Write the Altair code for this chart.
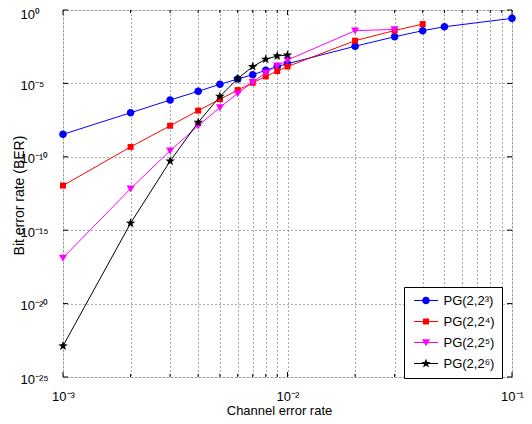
import math
import altair as alt
import pandas as pd

# ---------------- data ----------------
series_names = ["PG(2,2³)", "PG(2,2⁴)", "PG(2,2⁵)", "PG(2,2⁶)"]
colors = ["#0000ff", "#ff0000", "#ff00ff", "#000000"]

x_pg3 = [0.001, 0.002, 0.003, 0.004, 0.005, 0.006, 0.007, 0.008, 0.009, 0.01,
         0.02, 0.03, 0.04, 0.05, 0.1]
ber_pg3 = [3.4e-9, 1.0e-7, 7.4e-7, 2.9e-6, 8.7e-6, 2.0e-5, 3.9e-5, 7.8e-5, 1.4e-4, 2.2e-4,
           3.4e-3, 1.5e-2, 3.9e-2, 7.2e-2, 2.7e-1]

x_pg4 = [0.001, 0.002, 0.003, 0.004, 0.005, 0.006, 0.007, 0.008, 0.009, 0.01,
         0.02, 0.03, 0.04]
ber_pg4 = [1.1e-12, 4.7e-10, 1.3e-8, 1.4e-7, 8.3e-7, 3.5e-6, 1.1e-5, 3.0e-5, 6.9e-5, 1.4e-4,
           8.1e-3, 4.0e-2, 1.1e-1]

x_pg5 = [0.001, 0.002, 0.003, 0.004, 0.005, 0.006, 0.007, 0.008, 0.009, 0.01,
         0.02, 0.03]
ber_pg5 = [1.3e-17, 6.8e-13, 2.6e-10, 1.3e-8, 2.3e-7, 2.1e-6, 1.2e-5, 5.4e-5, 1.6e-4, 3.9e-4,
           3.9e-2, 4.8e-2]

x_pg6 = [0.001, 0.002, 0.003, 0.004, 0.005, 0.006, 0.007, 0.008, 0.009, 0.01]
ber_pg6 = [1.3e-23, 3.0e-15, 5.1e-11, 2.2e-8, 1.3e-6, 2.1e-5, 1.4e-4, 4.4e-4, 7.4e-4, 8.5e-4]

x_major = [0.001, 0.01, 0.1]
x_minor = [0.002, 0.003, 0.004, 0.005, 0.006, 0.007, 0.008, 0.009,
           0.02, 0.03, 0.04, 0.05, 0.06, 0.07, 0.08, 0.09]
x_tick_labels = ["10⁻³", "10⁻²", "10⁻¹"]
x_exponents = [-3, -2, -1]
y_major = [1.0, 1e-5, 1e-10, 1e-15, 1e-20, 1e-25]
y_tick_labels = ["10⁰", "10⁻⁵", "10⁻¹⁰", "10⁻¹⁵", "10⁻²⁰", "10⁻²⁵"]
y_exponents = [0, -5, -10, -15, -20, -25]

xs_all = [x_pg3, x_pg4, x_pg5, x_pg6]
ys_all = [ber_pg3, ber_pg4, ber_pg5, ber_pg6]

# ---------------- marker shapes (unit space) ----------------
def star_path(R=1.25, r=0.5):
    pts = []
    for k in range(10):
        ang = -math.pi / 2 + k * math.pi / 5
        rad = R if k % 2 == 0 else r
        pts.append((rad * math.cos(ang), rad * math.sin(ang)))
    return "M" + "L".join(f"{px:.3f},{py:.3f}" for px, py in pts) + "Z"

marker_paths = [
    "M0.95,0A0.95,0.95 0 1,1 -0.95,0A0.95,0.95 0 1,1 0.95,0Z",
    "M-0.75,-0.75H0.75V0.75H-0.75Z",
    "M-1,-0.8L1,-0.8L0,0.95Z",
    star_path(),
]
# legend symbol = short line (thin filled bar) + marker
legend_paths = ["M-3,-0.13H3V0.13H-3Z" + p for p in marker_paths]
S = 64

W, H = 449, 367

def label_expr(exps, labels):
    e = "round(log(datum.value)/LN10)"
    expr = "''"
    for ex, lab in zip(reversed(exps), reversed(labels)):
        expr = f"({e} == {ex} && abs(log(datum.value)/LN10 - {e}) < 0.001) ? '{lab}' : {expr}"
    return expr

FONT = "Liberation Sans"
xscale = alt.Scale(type="log", domain=[0.001, 0.1], nice=False)
yscale = alt.Scale(type="log", domain=[1e-25, 1.0], nice=False)

xaxis = alt.Axis(values=x_major + x_minor, labelExpr=label_expr(x_exponents, x_tick_labels),
                 grid=True, gridDash=[1, 3], gridColor="#555555", gridWidth=1,
                 ticks=False, tickSize=0, domain=False, labelPadding=13,
                 labelFont=FONT, labelFontSize=13, labelColor="black",
                 labelOverlap=False, labelFlush=False, labelBound=False,
                 title="Channel error rate", titleFont=FONT, titleFontSize=13,
                 titleFontWeight="normal", titleColor="black",
                 titleX=216, titleY=37, titleBaseline="alphabetic", titleAlign="center")
yaxis = alt.Axis(values=y_major, labelExpr=label_expr(y_exponents, y_tick_labels),
                 grid=True, gridDash=[1, 3], gridColor="#555555", gridWidth=1,
                 ticks=False, tickSize=0, domain=False, labelPadding=43,
                 labelAlign="left", labelBaseline="middle",
                 labelOffset={"condition": {"test": "datum.value > 0.5", "value": 4}, "value": 2},
                 labelFont=FONT, labelFontSize=13, labelColor="black",
                 labelOverlap=False, labelFlush=False, labelBound=False,
                 title="Bit error rate (BER)", titleFont=FONT, titleFontSize=14,
                 titleFontWeight="normal", titleColor="black",
                 titleX=-44, titleY=185, titleAngle=270, titleBaseline="middle",
                 titleAlign="center")

def X(field="x"):
    return alt.X(f"{field}:Q", scale=xscale, axis=xaxis)

def Y(field="y"):
    return alt.Y(f"{field}:Q", scale=yscale, axis=yaxis)

layers = []

# inward tick marks (box ticks)
df_xmaj = pd.DataFrame({"x": x_major})
df_xmin = pd.DataFrame({"x": x_minor})
df_ymaj = pd.DataFrame({"y": y_major})
for dfx, ln in [(df_xmaj, 5), (df_xmin, 3)]:
    layers.append(alt.Chart(dfx).mark_rule(color="black", strokeWidth=1).encode(
        x=X(), y=alt.value(H), y2=alt.value(H - ln)))
    layers.append(alt.Chart(dfx).mark_rule(color="black", strokeWidth=1).encode(
        x=X(), y=alt.value(0), y2=alt.value(ln)))
layers.append(alt.Chart(df_ymaj).mark_rule(color="black", strokeWidth=1).encode(
    y=Y(), x=alt.value(0), x2=alt.value(5)))
layers.append(alt.Chart(df_ymaj).mark_rule(color="black", strokeWidth=1).encode(
    y=Y(), x=alt.value(W), x2=alt.value(W - 5)))

frames = []
for name, col, mp, xs, ys in zip(series_names, colors, marker_paths, xs_all, ys_all):
    df = pd.DataFrame({"x": xs, "y": ys, "series": name})
    frames.append(df)
    layers.append(alt.Chart(df).mark_line(color=col, strokeWidth=1).encode(x=X(), y=Y()))
    layers.append(alt.Chart(df).mark_point(shape=mp, filled=True, size=S, color=col,
                                           opacity=1).encode(x=X(), y=Y()))

legend = alt.Legend(title=None, orient="none", legendX=341, legendY=277,
                    fillColor="white", strokeColor="black", padding=7,
                    symbolOffset=8.5, labelOffset=11, rowPadding=7,
                    symbolSize=S, symbolStrokeWidth=0, symbolOpacity=1,
                    labelFont=FONT, labelFontSize=13, labelColor="black", labelLimit=200)
df_all = pd.concat(frames, ignore_index=True)
layers.append(alt.Chart(df_all).mark_point(filled=True, opacity=0, size=S).encode(
    x=X(), y=Y(),
    color=alt.Color("series:N", scale=alt.Scale(domain=series_names, range=colors), legend=legend),
    shape=alt.Shape("series:N", scale=alt.Scale(domain=series_names, range=legend_paths), legend=legend),
))

chart = alt.layer(*layers).properties(
    width=W, height=H,
    autosize=alt.AutoSizeParams(type="none"),
    padding={"left": 55, "top": 2, "right": 12, "bottom": 39},
    background="white",
).configure_view(stroke="black", strokeWidth=1).configure(font=FONT)

chart.save("out.html", embed_options={"renderer": "svg", "actions": False})
